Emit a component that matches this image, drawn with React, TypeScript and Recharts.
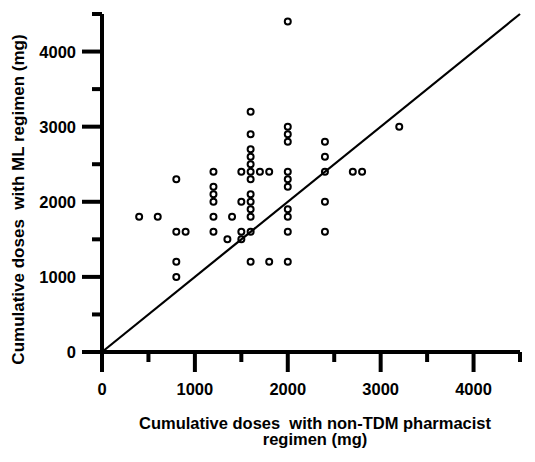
import { ScatterChart, Scatter, XAxis, YAxis, ReferenceLine } from 'recharts';

// doses, paired by index (x = non-TDM pharmacist, y = ML regimen)
const pharmacistDose = [
  400, 600,
  800, 800, 800, 800, 900,
  1200, 1200, 1200, 1200, 1200, 1200,
  1350, 1400,
  1500, 1500, 1500, 1500,
  1600, 1600, 1600, 1600, 1600, 1600, 1600, 1600, 1600, 1600, 1600, 1600, 1600,
  1700, 1800, 1800,
  2000, 2000, 2000, 2000, 2000, 2000, 2000, 2000, 2000, 2000, 2000,
  2400, 2400, 2400, 2400, 2400,
  2700, 2800, 3200,
];
const mlDose = [
  1800, 1800,
  2300, 1600, 1200, 1000, 1600,
  2400, 2200, 2100, 2000, 1800, 1600,
  1500, 1800,
  2400, 2000, 1600, 1500,
  3200, 2900, 2700, 2600, 2500, 2400, 2300, 2100, 2000, 1900, 1800, 1600, 1200,
  2400, 2400, 1200,
  4400, 3000, 2900, 2800, 2400, 2300, 2200, 1900, 1800, 1600, 1200,
  2800, 2600, 2400, 2000, 1600,
  2400, 2400, 3000,
];
const axisTicks = [0, 500, 1000, 1500, 2000, 2500, 3000, 3500, 4000, 4500];
const xTitle = ['Cumulative doses  with non-TDM pharmacist', 'regimen (mg)'];
const yTitle = 'Cumulative doses  with ML regimen (mg)';

const points = pharmacistDose.map((x, i) => ({ x, y: mlDose[i] }));

const FONT = '"Liberation Sans", Arial, sans-serif';
const textStyle = { whiteSpace: 'pre' as const };

const XTick = (props: any) => {
  const { x, y, payload } = props;
  const major = payload.value % 1000 === 0;
  return (
    <g>
      <line x1={x} x2={x} y1={y} y2={y + (major ? 20 : 10)} stroke="#000" strokeWidth={4} />
      {major && (
        <text x={x} y={y + 43} textAnchor="middle" fontFamily={FONT} fontWeight="bold" fontSize={16.5} fill="#000">
          {payload.value}
        </text>
      )}
    </g>
  );
};

const YTick = (props: any) => {
  const { x, y, payload } = props;
  const major = payload.value % 1000 === 0;
  return (
    <g>
      <line x1={x - (major ? 20 : 10)} x2={x} y1={y} y2={y} stroke="#000" strokeWidth={4} />
      {major && (
        <text x={x - 26} y={y + 6} textAnchor="end" fontFamily={FONT} fontWeight="bold" fontSize={16.5} fill="#000">
          {payload.value}
        </text>
      )}
    </g>
  );
};

const XTitle = (props: any) => {
  const vb = props.viewBox || { x: 94, width: 418 };
  const cx = vb.x + vb.width / 2 + 4;
  return (
    <g>
      <text x={cx} y={420.5} textAnchor="middle" fontFamily={FONT} fontWeight="bold" fontSize={16.5} fill="#000" style={textStyle}>
        {xTitle[0]}
      </text>
      <text x={cx} y={437} textAnchor="middle" fontFamily={FONT} fontWeight="bold" fontSize={16.5} fill="#000" style={textStyle}>
        {xTitle[1]}
      </text>
    </g>
  );
};

const YTitle = () => (
  <text
    x={16}
    y={191.5}
    transform="rotate(-90 16 191.5)"
    textAnchor="middle"
    fontFamily={FONT}
    fontWeight="bold"
    fontSize={17}
    fill="#000"
    style={textStyle}
  >
    {yTitle}
  </text>
);

const OpenCircle = (props: any) => {
  const { cx, cy } = props;
  return <circle cx={cx} cy={cy} r={3} fill="none" stroke="#000" strokeWidth={2} />;
};

export default function App() {
  return (
    <div style={{ width: 527, height: 454 }}>
      <ScatterChart width={527} height={454} margin={{ top: 6, right: 15, left: 0, bottom: 0 }}>
        <XAxis
          type="number"
          dataKey="x"
          domain={[0, 4500]}
          ticks={axisTicks}
          interval={0}
          height={110}
          tickSize={0}
          tickMargin={0}
          tickLine={false}
          axisLine={{ stroke: '#000', strokeWidth: 4 }}
          tick={<XTick />}
          label={<XTitle />}
        />
        <YAxis
          type="number"
          dataKey="y"
          domain={[0, 4500]}
          ticks={axisTicks}
          interval={0}
          width={94}
          tickSize={0}
          tickMargin={0}
          tickLine={false}
          axisLine={{ stroke: '#000', strokeWidth: 4 }}
          tick={<YTick />}
          label={<YTitle />}
        />
        <Scatter data={points} shape={<OpenCircle />} isAnimationActive={false} />
        <ReferenceLine
          segment={[{ x: 0, y: 0 }, { x: 4500, y: 4500 }]}
          stroke="#000"
          strokeWidth={2.2}
          ifOverflow="visible"
        />
      </ScatterChart>
    </div>
  );
}
